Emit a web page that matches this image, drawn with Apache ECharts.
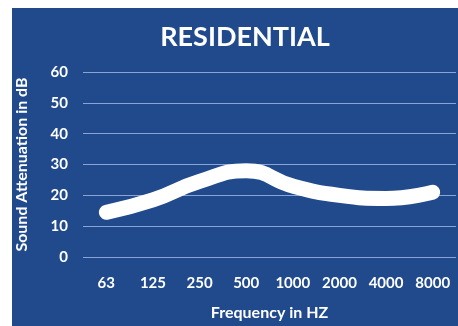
<!DOCTYPE html>
<html>
<head>
<meta charset="utf-8">
<script src="https://cdn.jsdelivr.net/npm/echarts@6/dist/echarts.min.js"></script>
<style>
html,body{margin:0;padding:0;background:#fff;}
#c{width:458px;height:326px;}
</style>
</head>
<body>
<div id="c"></div>
<script>
const categories = ['63', '125', '250', '500', '1000', '2000', '4000', '8000'];
const attenuation = [14.5, 18.5, 24.5, 28, 23, 20, 19, 21];
const yTicks = [0, 10, 20, 30, 40, 50, 60];

const FONT = 'Lato';
const chart = echarts.init(document.getElementById('c'), null, {renderer: 'canvas'});
chart.setOption({
  backgroundColor: '#ffffff',
  animation: false,
  graphic: [{
    type: 'rect', z: -10, silent: true,
    shape: {x: 12, y: 8, width: 446, height: 318},
    style: {fill: '#204a8c'}
  }],
  title: {
    text: 'RESIDENTIAL',
    left: 240, top: 19, textAlign: 'center',
    textStyle: {color: '#ffffff', fontFamily: FONT, fontWeight: 'bold', fontSize: 27}
  },
  grid: {left: 83, right: 2, top: 72, bottom: 63, containLabel: false},
  xAxis: {
    type: 'category',
    data: categories,
    boundaryGap: true,
    axisLine: {show: false},
    axisTick: {show: false},
    axisLabel: {color: '#ffffff', fontFamily: FONT, fontWeight: 'bold', fontSize: 15, margin: 19},
    name: 'Frequency in HZ',
    nameLocation: 'middle',
    nameGap: 48,
    nameTextStyle: {color: '#ffffff', fontFamily: FONT, fontWeight: 'bold', fontSize: 16}
  },
  yAxis: {
    type: 'value',
    min: yTicks[0], max: yTicks[yTicks.length - 1], interval: 10,
    axisLine: {show: false},
    axisTick: {show: false},
    splitLine: {lineStyle: {color: '#8aa4d6', width: 1}},
    axisLabel: {color: '#ffffff', fontFamily: FONT, fontWeight: 'bold', fontSize: 15, margin: 15},
    name: 'Sound Attenuation in dB',
    nameLocation: 'middle',
    nameGap: 53,
    nameRotate: 90,
    nameTextStyle: {color: '#ffffff', fontFamily: FONT, fontWeight: 'bold', fontSize: 16}
  },
  series: [{
    type: 'line',
    data: attenuation,
    smooth: 0.5,
    showSymbol: false,
    symbol: 'none',
    lineStyle: {color: '#ffffff', width: 15, cap: 'round', join: 'round'}
  }]
});
</script>
</body>
</html>
